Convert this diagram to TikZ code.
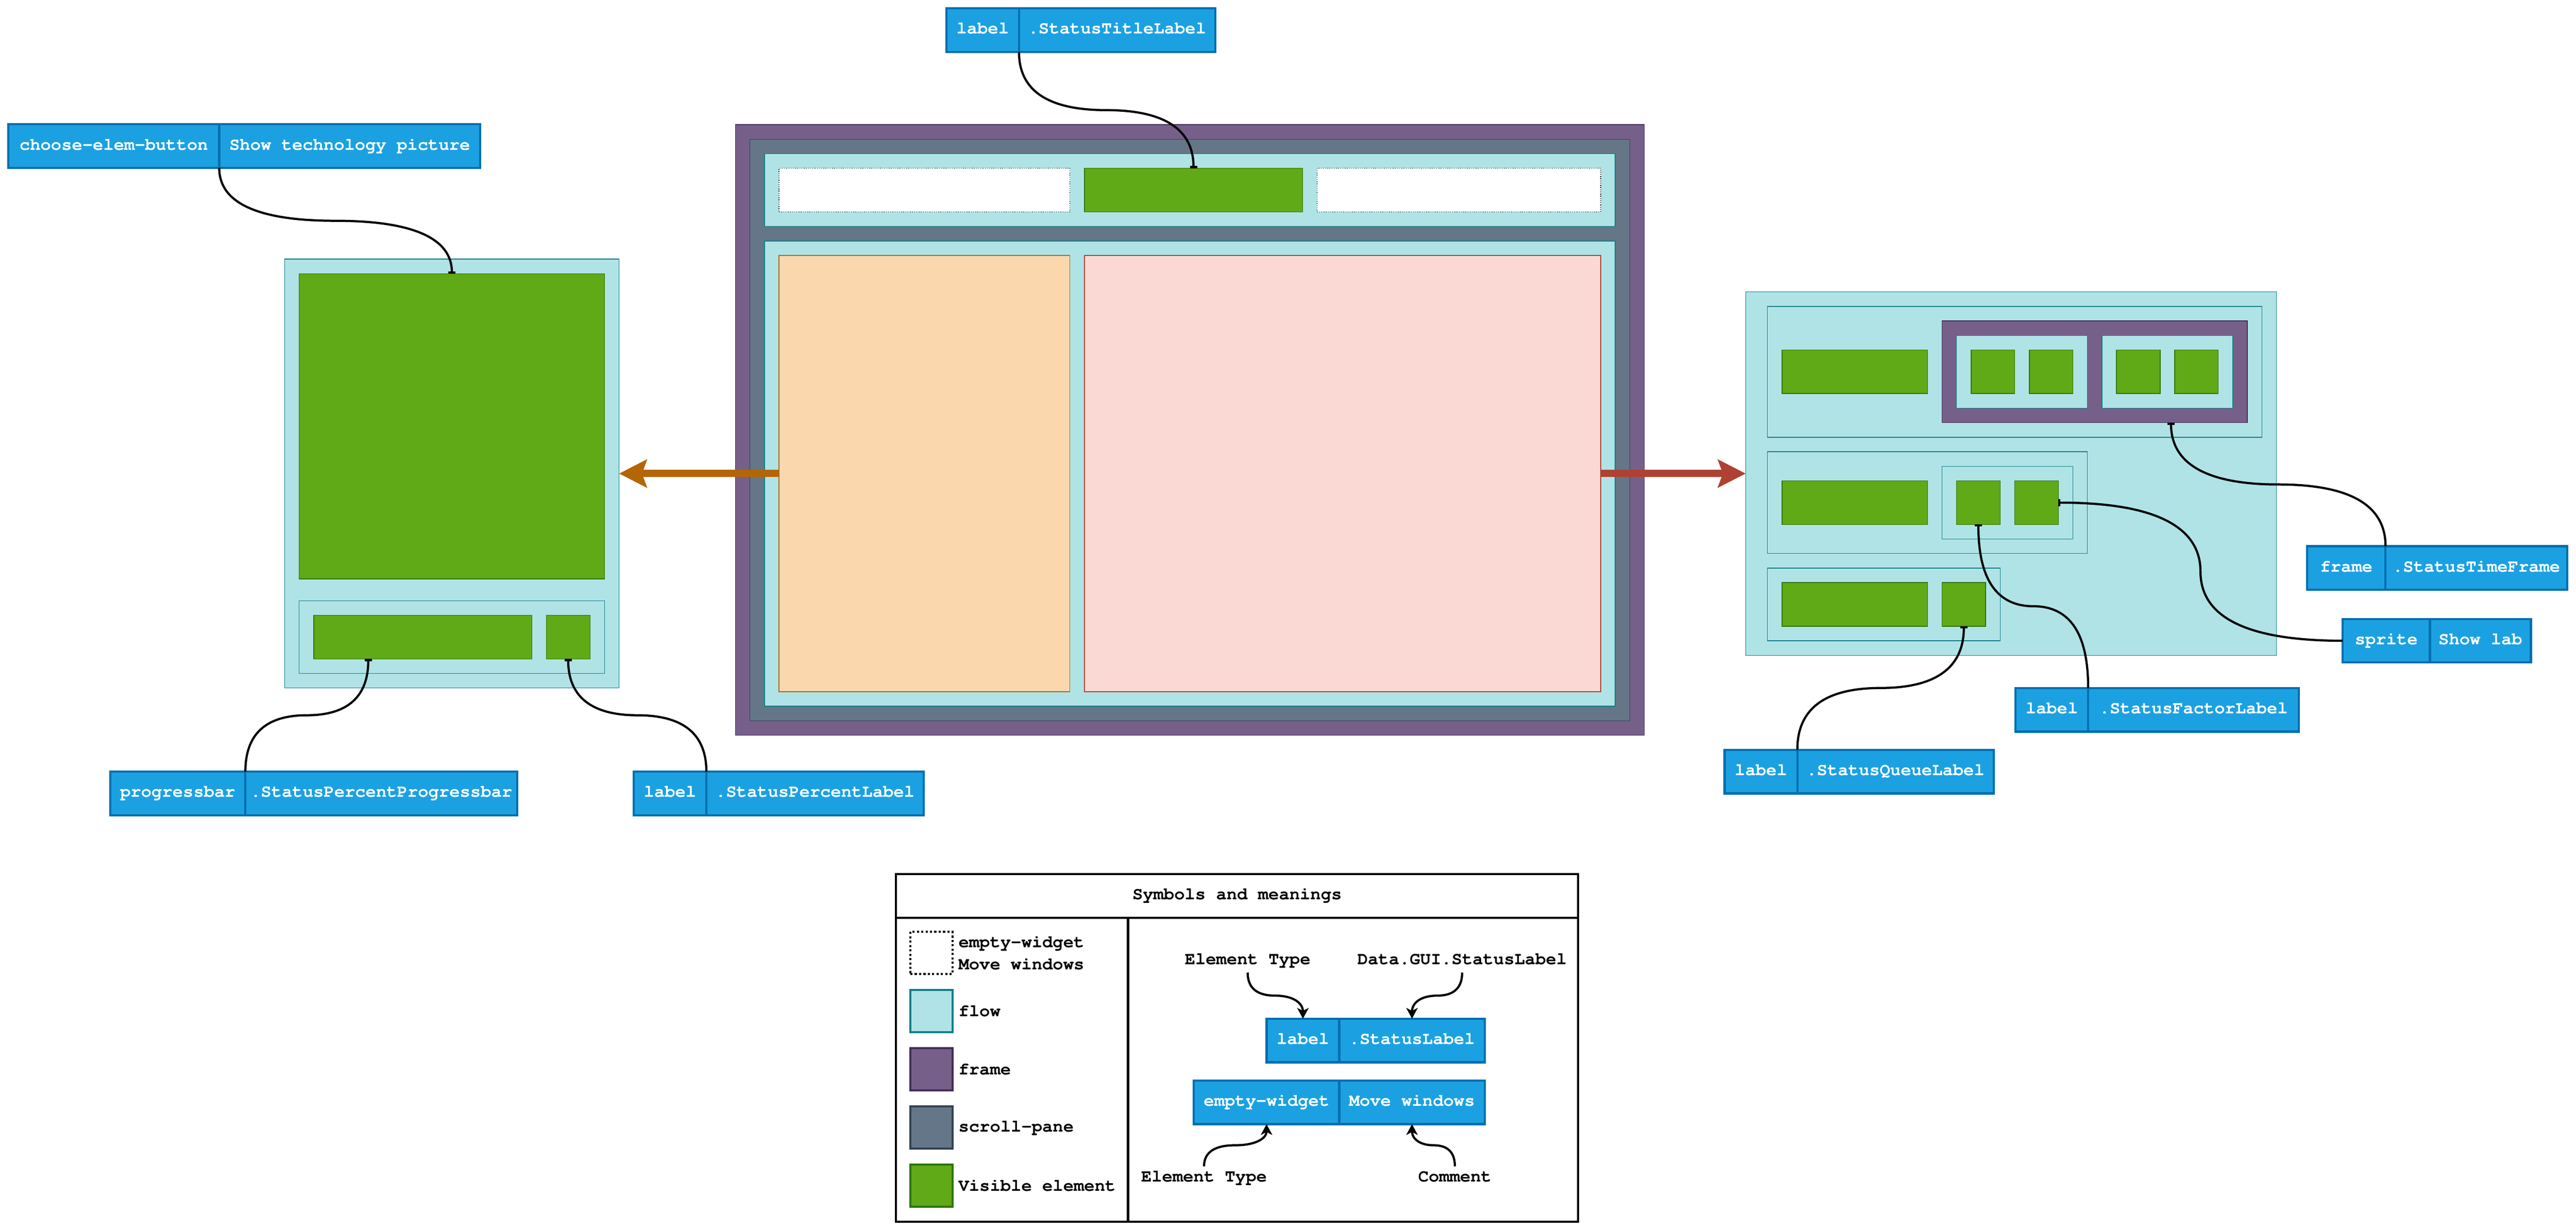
\documentclass[tikz,border=0pt]{standalone}
\usepackage[T1]{fontenc}
\usepackage{courier}
\usetikzlibrary{arrows.meta,calc,positioning}

\definecolor{flowfill}{HTML}{B0E3E6}
\definecolor{flowline}{HTML}{0E8088}
\definecolor{framefill}{HTML}{76608A}
\definecolor{frameline}{HTML}{432D57}
\definecolor{panefill}{HTML}{647687}
\definecolor{paneline}{HTML}{314354}
\definecolor{visfill}{HTML}{60A917}
\definecolor{visline}{HTML}{2D7600}
\definecolor{tagfill}{HTML}{1BA1E2}
\definecolor{tagline}{HTML}{006EAF}
\definecolor{leftfill}{HTML}{FAD7AC}
\definecolor{leftline}{HTML}{B46504}
\definecolor{rightfill}{HTML}{FAD9D5}
\definecolor{rightline}{HTML}{AE4132}

\begin{document}
\begin{tikzpicture}[x=1pt,y=-1pt]
\tikzstyle{plainbox}=[draw,line width=0.5pt,inner sep=0pt,outer sep=0pt,anchor=north west]
\tikzstyle{flowbox}=[plainbox,fill=flowfill,draw=flowline]
\tikzstyle{framebox}=[plainbox,fill=framefill,draw=frameline]
\tikzstyle{panebox}=[plainbox,fill=panefill,draw=paneline]
\tikzstyle{visbox}=[plainbox,fill=visfill,draw=visline]
\tikzstyle{emptybox}=[plainbox,fill=white,draw=black,densely dotted]
\tikzstyle{tagbox}=[draw=tagline,fill=tagfill,line width=1.5pt,inner sep=0pt,outer sep=0pt,minimum height=30pt,text=white,font=\ttfamily\bfseries\fontsize{12}{15}\selectfont,text height=8pt,text depth=2.8pt]
\tikzstyle{legbox}=[draw=black,line width=1.5pt,inner sep=0pt,outer sep=0pt,anchor=north west,font=\ttfamily\bfseries\fontsize{12}{15}\selectfont,text height=8pt,text depth=2.8pt]
\tikzstyle{keybox}=[line width=1.5pt,inner sep=0pt,outer sep=0pt,anchor=north west,minimum width=29pt,minimum height=29pt]
\tikzstyle{keytext}=[inner sep=0pt,anchor=west,align=left,font=\ttfamily\bfseries\fontsize{12}{15}\selectfont]
\tikzstyle{note}=[inner sep=2.5pt,anchor=base,font=\ttfamily\bfseries\fontsize{12}{15}\selectfont,text height=8pt,text depth=3pt]
\tikzstyle{wire}=[line width=1.5pt,-{Bar[width=5pt]}]
\tikzstyle{pointer}=[line width=1.5pt,-{Stealth[length=7.4pt,width=7.8pt,inset=2pt]}]
\tikzstyle{vwire}=[to path={let \p1=(\tikztostart), \p2=(\tikztotarget) in
  .. controls (\x1,{\y1+(\y2-\y1)/3}) and ({\x1+(\x2-\x1)/6},{(\y1+\y2)/2}) .. ({(\x1+\x2)/2},{(\y1+\y2)/2})
  .. controls ({\x2-(\x2-\x1)/6},{(\y1+\y2)/2}) and (\x2,{\y2-(\y2-\y1)/3}) .. (\tikztotarget)}]
\tikzstyle{hwire}=[to path={let \p1=(\tikztostart), \p2=(\tikztotarget) in
  .. controls ({\x1+(\x2-\x1)/3},\y1) and ({(\x1+\x2)/2},{\y1+(\y2-\y1)/6}) .. ({(\x1+\x2)/2},{(\y1+\y2)/2})
  .. controls ({(\x1+\x2)/2},{\y2-(\y2-\y1)/6}) and ({\x2-(\x2-\x1)/3},\y2) .. (\tikztotarget)}]
\useasboundingbox (0,0) rectangle (1771.5,846.5);

% left panel
\path (195.75,178.25) node[flowbox,minimum width=230pt,minimum height=295pt](lflow){};
\path (205.75,188.25) node[visbox,minimum width=210pt,minimum height=210pt](bigg){};
\path (205.75,413.25) node[flowbox,minimum width=210pt,minimum height=50pt](lrow){};
\path (215.75,423.25) node[visbox,minimum width=150pt,minimum height=30pt](gbar){};
\path (375.75,423.25) node[visbox,minimum width=30pt,minimum height=30pt](gpct){};
\coordinate (gbarPin) at ($(gbar.south west)!0.25!(gbar.south east)$);

% main window
\path (505.75,85.75) node[framebox,minimum width=625pt,minimum height=420pt](mframe){};
\path (515.75,95.75) node[panebox,minimum width=605pt,minimum height=400pt](mpane){};
\path (525.75,105.75) node[flowbox,minimum width=585pt,minimum height=50pt](mtop){};
\path (535.75,115.75) node[emptybox,minimum width=200pt,minimum height=30pt](mw1){};
\path (745.75,115.75) node[visbox,minimum width=150pt,minimum height=30pt](mtitle){};
\path (905.75,115.75) node[emptybox,minimum width=195pt,minimum height=30pt](mw2){};
\path (525.75,165.75) node[flowbox,minimum width=585pt,minimum height=320pt](mbody){};
\path (535.75,175.75) node[plainbox,fill=leftfill,draw=leftline,minimum width=200pt,minimum height=300pt](mleft){};
\path (745.75,175.75) node[plainbox,fill=rightfill,draw=rightline,minimum width=355pt,minimum height=300pt](mright){};

% right panel
\path (1200.5,200.75) node[flowbox,minimum width=365pt,minimum height=250pt](rflow){};
\path (1215.5,210.75) node[flowbox,minimum width=340pt,minimum height=90pt](r1){};
\path (1225.5,240.75) node[visbox,minimum width=100pt,minimum height=30pt](r1g){};
\path (1335.5,220.75) node[framebox,minimum width=210pt,minimum height=70pt](tframe){};
\path (1345.5,230.75) node[flowbox,minimum width=90pt,minimum height=50pt](ta){};
\path (1445.5,230.75) node[flowbox,minimum width=90pt,minimum height=50pt](tb){};
\path (1355.5,240.75) node[visbox,minimum width=30pt,minimum height=30pt](ta1){};
\path (1395.5,240.75) node[visbox,minimum width=30pt,minimum height=30pt](ta2){};
\path (1455.5,240.75) node[visbox,minimum width=30pt,minimum height=30pt](tb1){};
\path (1495.5,240.75) node[visbox,minimum width=30pt,minimum height=30pt](tb2){};
\coordinate (tframePin) at ($(tframe.south west)!0.75!(tframe.south east)$);
\path (1215.5,310.75) node[flowbox,minimum width=220pt,minimum height=70pt](r2){};
\path (1225.5,330.75) node[visbox,minimum width=100pt,minimum height=30pt](r2g){};
\path (1335.5,320.75) node[flowbox,minimum width=90pt,minimum height=50pt](r2f){};
\path (1345.5,330.75) node[visbox,minimum width=30pt,minimum height=30pt](r2a){};
\path (1385.5,330.75) node[visbox,minimum width=30pt,minimum height=30pt](r2b){};
\path (1215.5,390.75) node[flowbox,minimum width=160pt,minimum height=50pt](r3){};
\path (1225.5,400.75) node[visbox,minimum width=100pt,minimum height=30pt](r3g){};
\path (1335.5,400.75) node[visbox,minimum width=30pt,minimum height=30pt](r3b){};

% data flow
\draw[line width=5pt,draw=leftline,-{Stealth[length=19pt,width=19pt,inset=3.3pt]}] (mleft.west) -- (lflow.east);
\draw[line width=5pt,draw=rightline,-{Stealth[length=19pt,width=19pt,inset=3.3pt]}] (mright.east) -- (rflow.west);

% element tags
\path (5.75,85.5) node[tagbox,minimum width=145pt,anchor=north west](btnType){choose-elem-button}
  node[tagbox,minimum width=179.5pt,right=0pt of btnType](btnName){Show technology picture};
\path (650.75,5.75) node[tagbox,minimum width=50pt,anchor=north west](titleType){label}
  node[tagbox,minimum width=135pt,right=0pt of titleType](titleName){.StatusTitleLabel};
\path (75.75,530.75) node[tagbox,minimum width=93pt,anchor=north west](pbType){progressbar}
  node[tagbox,minimum width=187pt,right=0pt of pbType](pbName){.StatusPercentProgressbar};
\path (435.75,530.75) node[tagbox,minimum width=50pt,anchor=north west](pctType){label}
  node[tagbox,minimum width=149.5pt,right=0pt of pctType](pctName){.StatusPercentLabel};
\path (1586.5,375.75) node[tagbox,minimum width=54pt,anchor=north west](tfType){frame}
  node[tagbox,minimum width=125pt,right=0pt of tfType](tfName){.StatusTimeFrame};
\path (1611,425.75) node[tagbox,minimum width=60pt,anchor=north west](spType){sprite}
  node[tagbox,minimum width=69.5pt,right=0pt of spType](spName){Show lab};
\path (1386,473.25) node[tagbox,minimum width=50pt,anchor=north west](faType){label}
  node[tagbox,minimum width=145pt,right=0pt of faType](faName){.StatusFactorLabel};
\path (1186,515.75) node[tagbox,minimum width=50pt,anchor=north west](quType){label}
  node[tagbox,minimum width=135pt,right=0pt of quType](quName){.StatusQueueLabel};

\draw[wire] (btnType.south east) to[vwire] (bigg.north);
\draw[wire] (titleType.south east) to[vwire] (mtitle.north);
\draw[wire] (pbType.north east) to[vwire] (gbarPin);
\draw[wire] (pctType.north east) to[vwire] (gpct.south);
\draw[wire] (tfType.north east) to[vwire] (tframePin);
\draw[wire] (spType.west) to[hwire] (r2b.east);
\draw[wire] (faType.north east) to[vwire] (r2a.south);
\draw[wire] (quType.north east) to[vwire] (r3b.south);

% legend
\path (616.25,601.25) node[legbox,minimum width=469pt,minimum height=30pt](legTitle){Symbols and meanings};
\path (legTitle.south west) node[legbox,minimum width=159.5pt,minimum height=209pt](legKeys){};
\path (legKeys.north east) node[legbox,minimum width=309.5pt,minimum height=209pt](legDemo){};

\path (626,641) node[keybox,draw=black,fill=white,dash pattern=on 1.5pt off 1.5pt](kEmpty){};
\path (626,681) node[keybox,draw=flowline,fill=flowfill](kFlow){};
\path (626,721) node[keybox,draw=frameline,fill=framefill](kFrame){};
\path (626,761) node[keybox,draw=paneline,fill=panefill](kPane){};
\path (626,801) node[keybox,draw=visline,fill=visfill](kVis){};
\node[keytext] (kEmptyTxt) at ([xshift=4pt]kEmpty.east) {empty-widget\\Move windows};
\node[keytext] (kFlowTxt) at ([xshift=4pt]kFlow.east) {flow};
\node[keytext] (kFrameTxt) at ([xshift=4pt]kFrame.east) {frame};
\node[keytext] (kPaneTxt) at ([xshift=4pt]kPane.east) {scroll-pane};
\node[keytext] (kVisTxt) at ([xshift=4pt]kVis.east) {Visible element};

\path (871,700.75) node[tagbox,minimum width=50pt,anchor=north west](legLabType){label}
  node[tagbox,minimum width=100pt,right=0pt of legLabType](legLabName){.StatusLabel};
\path (821,743.25) node[tagbox,minimum width=100pt,anchor=north west](legEmpType){empty-widget}
  node[tagbox,minimum width=100pt,right=0pt of legEmpType](legEmpName){Move windows};
\path (858,663.3) node[note](etTop){Element Type};
\path (1005.5,663.3) node[note](dataTop){Data.GUI.StatusLabel};
\path (828,813) node[note](etBot){Element Type};
\path (1000.5,813) node[note](cmtBot){Comment};

\draw[pointer] (etTop.south) to[vwire] (legLabType.north);
\draw[pointer] (dataTop.south) to[vwire] (legLabName.north);
\draw[pointer] (etBot.north) to[vwire] (legEmpType.south);
\draw[pointer] (cmtBot.north) to[vwire] (legEmpName.south);
\end{tikzpicture}
\end{document}
